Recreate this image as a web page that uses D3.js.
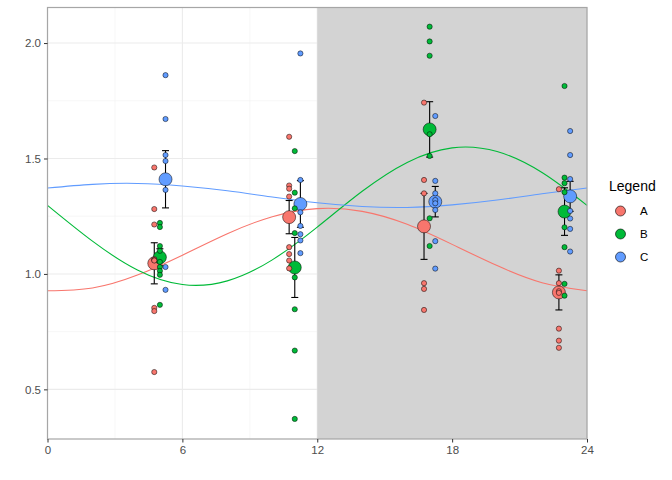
<!DOCTYPE html>
<html><head><meta charset="utf-8">
<script src="https://cdn.jsdelivr.net/npm/d3@7"></script>
<style>body{margin:0;background:#fff;} svg{display:block;font-family:"Liberation Sans",Arial,sans-serif;}</style>
</head><body><svg id="chart" width="672" height="480"></svg>
<script>
// ---- data ----
const times = [5, 11, 17, 23];
const seriesNames = ["A", "B", "C"];
const seriesColors = ["#F8766D", "#00BA38", "#619CFF"];
const pointsA = [
  [1.461, 1.281, 1.214, 1.064, 1.060, 1.058, 0.853, 0.839, 0.575],
  [1.594, 1.383, 1.369, 1.335, 1.116, 1.086, 1.058, 1.024],
  [1.742, 1.407, 1.349, 0.960, 0.935, 0.844],
  [1.367, 1.014, 0.960, 0.925, 0.918, 0.763, 0.711, 0.680]
];
const pointsB = [
  [1.221, 1.203, 1.121, 1.100, 1.052, 1.030, 1.013, 0.996, 0.866],
  [1.532, 1.352, 1.284, 1.177, 0.985, 0.847, 0.668, 0.372],
  [2.071, 2.007, 1.945, 1.605, 1.511, 1.241, 1.121],
  [1.814, 1.417, 1.393, 1.354, 1.202, 1.116, 0.957, 0.906]
];
const pointsC = [
  [1.861, 1.671, 1.515, 1.489, 1.364, 1.030, 0.931],
  [1.955, 1.407, 1.267, 1.208, 1.172, 1.145, 1.090],
  [1.684, 1.403, 1.349, 1.320, 1.306, 1.277, 1.142, 1.023],
  [1.619, 1.515, 1.411, 1.273, 1.240, 1.195, 1.097]
];
const meanA = [1.046, 1.246, 1.206, 0.920];
const seA   = [0.089, 0.072, 0.143, 0.076];
const meanB = [1.072, 1.028, 1.626, 1.270];
const seB   = [0.037, 0.130, 0.120, 0.103];
const meanC = [1.410, 1.303, 1.313, 1.336];
const seC   = [0.124, 0.101, 0.066, 0.065];
const curveTimes = [0, 2, 4, 6, 8, 10, 12, 14, 16, 18, 20, 22, 24];
const curveA = [0.927, 0.939, 0.995, 1.081, 1.174, 1.248, 1.283, 1.271, 1.215, 1.128, 1.036, 0.962, 0.927];
const curveB = [1.297, 1.142, 1.017, 0.954, 0.970, 1.061, 1.203, 1.358, 1.483, 1.546, 1.530, 1.439, 1.297];
const curveC = [1.372, 1.388, 1.392, 1.381, 1.360, 1.333, 1.308, 1.292, 1.288, 1.299, 1.320, 1.347, 1.372];
const xTicks = [0, 6, 12, 18, 24];
const xMinor = [3, 9, 15, 21];
const yTicks = [0.5, 1.0, 1.5, 2.0];
const yMinor = [0.75, 1.25, 1.75];
const shadeRange = [12, 24];
const legendTitle = "Legend";

// ---- layout ----
const svg = d3.select("#chart");
const L = 47.5, R = 587, T = 7.5, B = 439;
const x = d3.scaleLinear().domain([0, 24]).range([L, R]);
const y = d3.scaleLinear().domain([0.285, 2.154]).range([B, T]);
const dodge = [-0.25, 0, 0.25];

const series = [
  {name: seriesNames[0], color: seriesColors[0], pts: pointsA, mean: meanA, se: seA, curve: curveA},
  {name: seriesNames[1], color: seriesColors[1], pts: pointsB, mean: meanB, se: seB, curve: curveB},
  {name: seriesNames[2], color: seriesColors[2], pts: pointsC, mean: meanC, se: seC, curve: curveC}
];

const g = svg.append("g");
// grid
g.selectAll(".xmin").data(xMinor).join("line").attr("x1", d => x(d)).attr("x2", d => x(d))
  .attr("y1", T).attr("y2", B).attr("stroke", "#F2F2F2").attr("stroke-width", 0.6);
g.selectAll(".ymin").data(yMinor).join("line").attr("y1", d => y(d)).attr("y2", d => y(d))
  .attr("x1", L).attr("x2", R).attr("stroke", "#F2F2F2").attr("stroke-width", 0.6);
g.selectAll(".xmaj").data(xTicks).join("line").attr("x1", d => x(d)).attr("x2", d => x(d))
  .attr("y1", T).attr("y2", B).attr("stroke", "#EBEBEB").attr("stroke-width", 1.1);
g.selectAll(".ymaj").data(yTicks).join("line").attr("y1", d => y(d)).attr("y2", d => y(d))
  .attr("x1", L).attr("x2", R).attr("stroke", "#EBEBEB").attr("stroke-width", 1.1);

// shaded rect
g.append("rect").attr("x", x(shadeRange[0])).attr("y", T)
  .attr("width", x(shadeRange[1]) - x(shadeRange[0])).attr("height", B - T)
  .attr("fill", "#D3D3D3");

// curves
const line = d3.line().x((d, i) => x(curveTimes[i])).y(d => y(d)).curve(d3.curveNatural);
series.forEach(s => {
  g.append("path").attr("d", line(s.curve)).attr("fill", "none")
    .attr("stroke", s.color).attr("stroke-width", 1.1);
});

// error bars
const capW = 3.5;
series.forEach((s, si) => {
  times.forEach((t, i) => {
    const cx = x(t + dodge[si]);
    const y1 = y(s.mean[i] + s.se[i]), y2 = y(s.mean[i] - s.se[i]);
    g.append("line").attr("x1", cx).attr("x2", cx).attr("y1", y1).attr("y2", y2)
      .attr("stroke", "#000").attr("stroke-width", 1.1);
    [y1, y2].forEach(yy => g.append("line").attr("x1", cx - capW).attr("x2", cx + capW)
      .attr("y1", yy).attr("y2", yy).attr("stroke", "#000").attr("stroke-width", 1.1));
  });
});

// means
series.forEach((s, si) => {
  g.selectAll(null).data(s.mean).join("circle")
    .attr("cx", (d, i) => x(times[i] + dodge[si])).attr("cy", d => y(d))
    .attr("r", 6.5).attr("fill", s.color).attr("stroke", "#000").attr("stroke-width", 0.5);
});

// raw points
series.forEach((s, si) => {
  times.forEach((t, i) => {
    g.selectAll(null).data(s.pts[i]).join("circle")
      .attr("cx", x(t + dodge[si])).attr("cy", d => y(d))
      .attr("r", 2.6).attr("fill", s.color).attr("stroke", "#000").attr("stroke-width", 0.5);
  });
});

// panel border
g.append("rect").attr("x", L).attr("y", T).attr("width", R - L).attr("height", B - T)
  .attr("fill", "none").attr("stroke", "#A6A6A6").attr("stroke-width", 1.2);

// axes
const xAxis = d3.axisBottom(x).tickValues(xTicks).tickFormat(d3.format("d")).tickSize(3.5).tickPadding(3);
const yAxis = d3.axisLeft(y).tickValues(yTicks).tickFormat(d3.format(".1f")).tickSize(3.5).tickPadding(3);
const gx = svg.append("g").attr("transform", `translate(0,${B})`).call(xAxis);
const gy = svg.append("g").attr("transform", `translate(${L},0)`).call(yAxis);
[gx, gy].forEach(a => {
  a.select(".domain").remove();
  a.selectAll(".tick line").attr("stroke", "#333").attr("stroke-width", 1);
  a.selectAll(".tick text").attr("fill", "#4D4D4D").style("font-size", "11.5px")
    .style("font-family", "'Liberation Sans', Arial, sans-serif");
});

// legend
const lg = svg.append("g");
lg.append("text").attr("x", 609).attr("y", 190.5).text(legendTitle)
  .style("font-size", "14px").attr("fill", "#000");
const legY = d3.scalePoint().domain(seriesNames).range([211, 257]);
series.forEach(s => {
  lg.append("circle").attr("cx", 620.5).attr("cy", legY(s.name)).attr("r", 5)
    .attr("fill", s.color).attr("stroke", "#000").attr("stroke-width", 0.6);
  lg.append("text").attr("x", 640).attr("y", legY(s.name) + 4).text(s.name)
    .style("font-size", "11.5px").attr("fill", "#000");
});
</script></body></html>
